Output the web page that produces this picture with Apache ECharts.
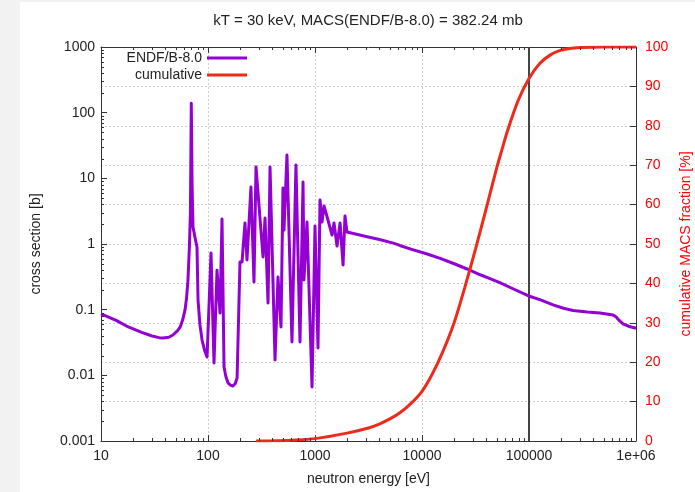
<!DOCTYPE html>
<html><head><meta charset="utf-8">
<script src="https://cdn.jsdelivr.net/npm/echarts@6/dist/echarts.min.js"></script>
<style>html,body{margin:0;padding:0;background:#fff}#c{width:695px;height:492px}</style>
</head><body><div id="c"></div>
<script>
// ---- data ----
const titleText = 'kT = 30 keV, MACS(ENDF/B-8.0) = 382.24 mb';
const energyXS = [10,14,18,24,30,35,38,43,47,52,55,58,61,63,65,67,68.5,69.8,71,72.4,76,78.9,80.7,84,88,93,98,100,
  106.7,113.8,121.4,129.5,135.2,141.2,147,154,162,171,180,187,199,208,221.7,231.4,252,269,281,326.7,341,364,380,
  423,451,481,502,513,547,609,664,724,773,789,842,860,938,1000,1067,1114,1162,1214,1322,1442,1506,1606,1714,1829,1907,1990,
  3000,4000,5400,6200,8000,11000,15000,20000,26000,35000,45000,54000,70000,98000,130000,168000,210000,258000,350000,461000,610000,650000,700000,756000,850000,1000000];
const crossSection = [0.086,0.068,0.0545,0.045,0.0397,0.0375,0.0371,0.038,0.0411,0.048,0.0545,0.07,0.099,0.15,0.283,0.9,3,139,8,1.82,1.2,0.9,0.14,0.06,0.0345,0.024,0.019,0.019,
  0.73,0.0154,0.40,0.089,2.4,0.0134,0.0095,0.00765,0.0071,0.00689,0.0075,0.0091,0.532,0.532,2.09,0.571,7.38,0.264,14.9,0.634,2.49,0.126,14.9,
  0.0171,0.315,0.0545,7.13,1.63,22.7,0.0322,16.0,0.0322,8.8,0.283,2.16,0.68,0.00665,1.88,0.0261,4.68,2.16,3.79,2.32,1.37,2.09,0.93,2.09,0.479,2.67,1.52,
  1.3,1.17,1.03,0.95,0.83,0.71,0.6,0.5,0.42,0.34,0.29,0.255,0.21,0.163,0.14,0.118,0.105,0.097,0.092,0.089,0.083,0.078,0.068,0.061,0.056,0.052];
const energyCum = [280,400,600,1000,1995,3162,3981,5012,6310,7943,10000,12589,15849,19953,25119,31623,39811,50119,56234,63096,79433,100000,125893,158489,199526,251189,316228,501187,1000000];
const cumulative = [0,0.05,0.2,0.6,2.0,3.3,4.3,5.6,7.3,9.6,12.6,17.2,23.0,30.0,39.0,48.7,59.0,69.5,74.2,78.8,86.5,92.0,95.8,98.0,99.2,99.7,99.9,100,100];
const kTLineEnergy = [100000, 100000];
const kTLineRange = [0.001, 1000];
const xTickLabels = {10:'10',100:'100',1000:'1000',10000:'10000',100000:'100000',1000000:'1e+06'};
const yTickLabels = ['0.001','0.01','0.1','1','10','100','1000'];

// minor tick positions (axis decoration)
const minorX = []; for (let d = 1; d < 6; d++) for (let m = 2; m < 10; m++) minorX.push(m * Math.pow(10, d));
const minorY = []; for (let d = -3; d < 3; d++) for (let m = 2; m < 10; m++) minorY.push(+(m * Math.pow(10, d)).toPrecision(3));
const tickData = minorX.map(v => [v, 1, 0]).concat(minorY.map(v => [10, v, 1]));

const FONT = "'Liberation Sans', Arial, sans-serif";
const TXT = '#222';
const AX = '#333';

const chart = echarts.init(document.getElementById('c'), null, {renderer: 'canvas'});
chart.setOption({
  animation: false,
  backgroundColor: '#fff',
  textStyle: {fontFamily: FONT},
  title: {text: titleText, left: 368, top: 13, textAlign: 'center', padding: 0,
    textStyle: {fontFamily: FONT, fontSize: 15, fontWeight: 'normal', color: TXT}},
  graphic: [
    {type: 'rect', shape: {x: 0, y: 0, width: 20, height: 492}, style: {fill: '#f2f2f2'}, z: -10},
    {type: 'rect', shape: {x: 0, y: 0, width: 695, height: 2}, style: {fill: '#f2f2f2'}, z: -10}
  ],
  legend: [
    {data: ['ENDF/B-8.0'], orient: 'vertical', align: 'right', right: 448, top: 51, padding: 0,
      icon: 'rect', itemWidth: 40, itemHeight: 3, textStyle: {fontFamily: FONT, fontSize: 14, color: TXT}},
    {data: ['cumulative'], orient: 'vertical', align: 'right', right: 448, top: 68, padding: 0,
      icon: 'rect', itemWidth: 40, itemHeight: 3, textStyle: {fontFamily: FONT, fontSize: 14, color: TXT}}
  ],
  grid: {left: 101, right: 59, top: 47, bottom: 51, containLabel: false, outerBoundsMode: 'none'},
  xAxis: [
    {type: 'log', logBase: 10, min: 10, max: 1000000, position: 'bottom',
      name: 'neutron energy [eV]', nameLocation: 'middle', nameGap: 31,
      nameTextStyle: {fontFamily: FONT, fontSize: 14, color: TXT},
      axisLine: {show: true, lineStyle: {color: AX, width: 1}},
      axisTick: {show: true, inside: true, length: 6, lineStyle: {color: AX}},
      axisLabel: {margin: 8, fontFamily: FONT, fontSize: 14, color: TXT, showMinLabel: true, showMaxLabel: true, hideOverlap: false,
        formatter: v => xTickLabels[Math.round(v)] || ''},
      splitLine: {show: true, lineStyle: {color: '#cfcfcf', type: [2, 2], width: 1}},
      minorTick: {show: false}},
    {type: 'log', logBase: 10, min: 10, max: 1000000, position: 'top',
      axisLine: {show: true, lineStyle: {color: AX, width: 1}},
      axisTick: {show: true, inside: true, length: 6, lineStyle: {color: AX}},
      axisLabel: {show: false}, splitLine: {show: false}}
  ],
  yAxis: [
    {type: 'log', logBase: 10, min: 0.001, max: 1000, position: 'left',
      name: 'cross section [b]', nameLocation: 'middle', nameGap: 58,
      nameTextStyle: {fontFamily: FONT, fontSize: 14, color: TXT},
      axisLine: {show: true, lineStyle: {color: AX, width: 1}},
      axisTick: {show: true, inside: true, length: 6, lineStyle: {color: AX}},
      axisLabel: {margin: 6, fontFamily: FONT, fontSize: 14, color: TXT, showMinLabel: true, showMaxLabel: true,
        formatter: v => yTickLabels[Math.round(Math.log10(v)) + 3]},
      splitLine: {show: false}},
    {type: 'value', min: 0, max: 100, interval: 10, position: 'right',
      name: 'cumulative MACS fraction [%]', nameLocation: 'middle', nameGap: 42, nameRotate: 90,
      nameTextStyle: {fontFamily: FONT, fontSize: 14, color: '#ff0000'},
      axisLine: {show: true, lineStyle: {color: AX, width: 1}},
      axisTick: {show: true, inside: true, length: 6, lineStyle: {color: AX}},
      axisLabel: {margin: 9, fontFamily: FONT, fontSize: 14, color: '#ff0000'},
      splitLine: {show: true, lineStyle: {color: '#cfcfcf', type: [2, 2], width: 1}}}
  ],
  series: [
    {name: 'kT', type: 'line', xAxisIndex: 0, yAxisIndex: 0, symbol: 'none', silent: true, z: 1,
      data: kTLineEnergy.map((e, i) => [e, kTLineRange[i]]),
      lineStyle: {color: '#444', width: 2}},
    {name: 'ENDF/B-8.0', type: 'line', xAxisIndex: 0, yAxisIndex: 0, symbol: 'none', showSymbol: false, z: 3,
      data: energyXS.map((e, i) => [e, crossSection[i]]),
      itemStyle: {color: '#9400d3'},
      lineStyle: {color: '#9400d3', width: 3, join: 'round'}},
    {name: 'cumulative', type: 'line', xAxisIndex: 0, yAxisIndex: 1, symbol: 'none', showSymbol: false, z: 4,
      smooth: 0.3,
      data: energyCum.map((e, i) => [e, cumulative[i]]),
      itemStyle: {color: '#ee2a1b'},
      lineStyle: {color: '#ee2a1b', width: 3}},
    {name: 'minorTicks', type: 'custom', xAxisIndex: 0, yAxisIndex: 0, silent: true, clip: false, z: 6,
      encode: {x: 0, y: 1},
      data: tickData,
      renderItem: function (params, api) {
        const kind = api.value(2);
        if (kind === 0) {
          const x = Math.round(api.coord([api.value(0), 1])[0]) + 0.5;
          const yb = api.coord([10, 0.001])[1], yt = api.coord([10, 1000])[1];
          return {type: 'group', children: [
            {type: 'line', shape: {x1: x, y1: yb, x2: x, y2: yb - 3}, style: {stroke: AX, lineWidth: 1}},
            {type: 'line', shape: {x1: x, y1: yt, x2: x, y2: yt + 3}, style: {stroke: AX, lineWidth: 1}}
          ]};
        }
        const y = Math.round(api.coord([10, api.value(1)])[1]) + 0.5;
        const xl = api.coord([10, 1])[0];
        return {type: 'line', shape: {x1: xl, y1: y, x2: xl + 3, y2: y}, style: {stroke: AX, lineWidth: 1}};
      }}
  ]
});
</script></body></html>
